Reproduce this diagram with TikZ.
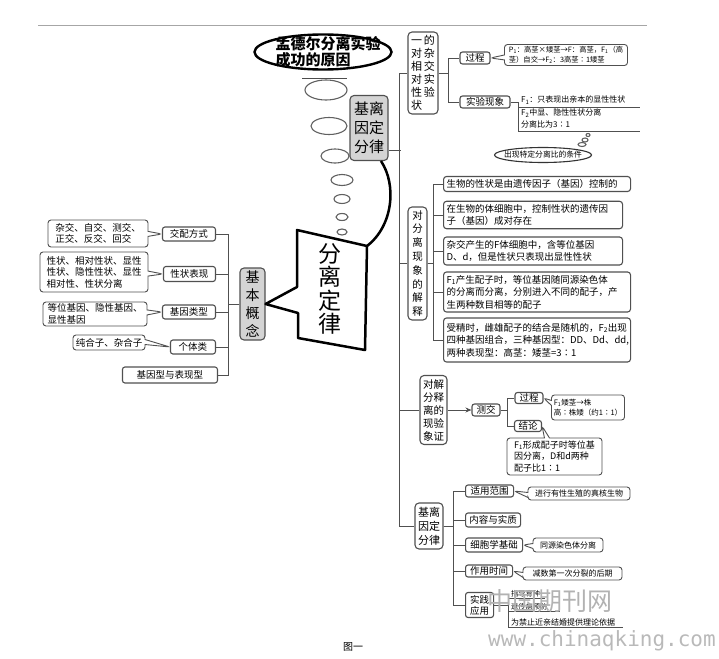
\documentclass[tikz,border=0pt]{standalone}
\usepackage{fontspec}
\setmainfont{Noto Sans CJK SC}
\newfontfamily\monofnt{DejaVu Sans Mono}
\usetikzlibrary{shapes.geometric,shapes.callouts,arrows.meta,calc}
\definecolor{lc}{RGB}{80,80,80}
\definecolor{gf}{RGB}{212,212,212}
\newcommand{\myfs}[2]{\fontsize{#1}{#2}\selectfont}
\tikzset{
  conn/.style={draw=lc, line width=0.9pt},
  lbl/.style={draw=lc, line width=1.1pt, rounded corners=2.5pt, fill=white, inner sep=0pt, font=\myfs{9.5}{11}},
  ebox/.style={draw=lc, line width=1.1pt, rounded corners=3pt, fill=white, inner sep=3pt, align=left, anchor=west, font=\myfs{9.5}{12.5}},
  bub/.style={rectangle callout, callout pointer width=5pt, draw=lc, line width=0.9pt, rounded corners=3pt, fill=white, inner sep=0pt, align=left, font=\myfs{9.5}{11.5}},
  vbox/.style={draw=lc, line width=1.1pt, rounded corners=4pt, fill=white, inner sep=0pt, align=center},
  thought/.style={ellipse, draw=gray!75!black, line width=1.1pt, inner sep=0pt},
}
\begin{document}
\begin{tikzpicture}[x=1pt,y=-1pt]
\useasboundingbox (0,0) rectangle (719,658);
\draw[gray!70, line width=1pt] (38,26) -- (647,26);

% ---------- left: basic concepts ----------
\node[vbox, fill=gf, minimum width=25pt, minimum height=72pt, font=\myfs{14}{18}] (jbgn) at (252.5,304) {基\\本\\概\\念};
\node[lbl, minimum width=53pt, minimum height=14pt, anchor=east] (jp) at (216,234) {交配方式};
\node[lbl, minimum width=52pt, minimum height=15pt, anchor=east] (xz) at (216,274) {性状表现};
\node[lbl, minimum width=53pt, minimum height=14pt, anchor=east] (jl) at (216,312) {基因类型};
\node[lbl, minimum width=45pt, minimum height=14pt, anchor=east] (gt) at (216,347) {个体类};
\node[lbl, minimum width=95pt, minimum height=16pt, anchor=east] (bx) at (218,375) {基因型与表现型};
\foreach \n in {jp,xz,jl,gt,bx} \draw[conn] (jbgn.west) -- +(-11,0) |- (\n.east);
\node[bub, minimum width=100pt, minimum height=27pt, callout absolute pointer={(jp.west)}] (b1) at (98,233.5) {杂交、自交、测交、\\正交、反交、回交};
\node[bub, minimum width=108pt, minimum height=40pt, callout absolute pointer={(xz.west)}] (b2) at (94,272) {性状、相对性状、显性\\性状、隐性性状、显性\\相对性、性状分离};
\node[bub, minimum width=104pt, minimum height=24pt, callout absolute pointer={(jl.west)}] (b3) at (95,314) {等位基因、隐性基因、\\显性基因};
\node[bub, minimum width=72pt, minimum height=15pt, callout absolute pointer={(gt.west)}] (b4) at (109,342.5) {纯合子、杂合子};

% ---------- top: title ellipse and thought bubbles ----------
\node[ellipse, draw=black, line width=2.4pt, minimum width=137pt, minimum height=35pt, inner sep=0pt] (mdr) at (323,52) {};
\node[font=\myfs{15}{16}\bfseries, align=left] (mdrT) at (328,52) {孟德尔分离实验\\成功的原因};
\draw[gray!60!black, line width=1pt] ($(mdr.south)+(-21,8)$) -- +(45,0);
\foreach \x/\y/\w/\h [count=\i] in {326/90/42/20, 329/126/36/17, 335/156/28/14, 342/180/22/11, 342/199/16/9, 342/217/12/7, 342/232/10/6}
  \node[thought, minimum width=\w pt, minimum height=\h pt] (th\i) at (\x,\y) {};

\node[vbox, fill=gf, minimum width=38pt, minimum height=65pt, font=\myfs{15}{19}] (jl1) at (369,128) {基离\\因定\\分律};

% ---------- central callout ----------
\coordinate (pA) at (297,230);
\coordinate (pB) at (367,246);
\coordinate (pC) at (365,350);
\coordinate (pD) at (298,338);
\coordinate (pE) at (298,313);
\coordinate (pF) at (297,287);
\draw[line width=2.5pt, line join=round] (pA) -- (pB) -- (pC) -- (pD) -- (pE) -- (jbgn.east) -- (pF) -- cycle;
\node[font=\myfs{23}{23.5}, align=center] (flT) at (330,289) {分\\离\\定\\律};
\draw[line width=2.5pt] ([xshift=12pt]jl1.south) .. controls (397,185) and (393,226) .. (pB);

% ---------- right spine ----------
\node[vbox, minimum width=30pt, minimum height=82pt, font=\myfs{11}{13}, align=left] (r1) at (423,73) {一\,的\\对\,杂\\相\,交\\对\,实\\性\,验\\状};
\node[vbox, minimum width=19pt, minimum height=113pt, font=\myfs{10.5}{13.8}] (r2) at (417.5,263.5) {对\\分\\离\\现\\象\\的\\解\\释};
\node[vbox, minimum width=27pt, minimum height=69pt, font=\myfs{10.5}{13}] (r3) at (433.5,410) {对解\\分释\\离的\\现验\\象证};
\node[vbox, minimum width=28pt, minimum height=46pt, font=\myfs{11}{14}] (r4) at (429,526) {基离\\因定\\分律};
\draw[conn] (r1.west) -| ($(r4.west)+(-15,0)$) -- (r4.west);
\draw[conn] ([yshift=-22pt]jl1.east) -- +(12,0);
\draw[conn] (r2.west) -- +(-8.5,0);
\draw[conn] (r3.west) -- +(-20.5,0);

% branch 1
\node[lbl, minimum width=30pt, minimum height=12pt] (gc1) at (475,58) {过程};
\node[lbl, minimum width=50pt, minimum height=12pt] (sy) at (485,102) {实验现象};
\draw[conn] (r1.east) -- +(10,0) |- (gc1.west);
\draw[conn] (r1.east) -- +(10,0) |- (sy.west);
\node[bub, minimum width=123pt, minimum height=21pt, font=\myfs{7.3}{9.5}, callout absolute pointer={(gc1.east)}] (gcb) at (566,55) {P\textsubscript{1}：高茎×矮茎→F：高茎，F\textsubscript{1}（高\\茎）自交→F\textsubscript{2}：3高茎∶1矮茎};
\node[anchor=west, font=\myfs{8}{9}, inner sep=0pt] (syT1) at (521,100) {F\textsubscript{1}：只表现出亲本的显性性状};
\node[anchor=west, font=\myfs{8}{9}, inner sep=0pt] (syT2) at (521,113) {F\textsubscript{2}中显、隐性性状分离};
\node[anchor=west, font=\myfs{8}{9}, inner sep=0pt] (syT3) at (521,124) {分离比为3∶1};
\coordinate (u1) at (640,107);
\coordinate (u2) at (640,131);
\draw[conn] (sy.east) -- +(8,0) |- (u2);
\draw[conn] ($(sy.east)+(8,5)$) -- (u1);
\node[thought, minimum width=4pt, minimum height=3pt] (tq1) at (588,135) {};
\node[thought, minimum width=6pt, minimum height=4pt] (tq2) at (585,140) {};
\node[thought, minimum width=8pt, minimum height=4pt] (tq3) at (582,144.5) {};
\node[ellipse, draw=black!80, line width=1.1pt, inner sep=0pt, minimum width=97pt, minimum height=15pt] (tj) at (543,155) {};
\node[font=\myfs{7.8}{9}, inner sep=0pt] (tjT) at (tj) {出现特定分离比的条件};

% branch 2
\node[ebox, text width=181pt, minimum height=14pt] (ea) at (443,184) {生物的性状是由遗传因子（基因）控制的};
\node[ebox, text width=173pt, minimum height=26pt] (eb) at (443,215) {在生物的体细胞中，控制性状的遗传因\\子（基因）成对存在};
\node[ebox, text width=173pt, minimum height=28pt] (ec) at (443,251) {杂交产生的F体细胞中，含等位基因\\D、d，但是性状只表现出显性性状};
\node[ebox, text width=181pt, minimum height=40pt] (ed) at (443,292) {F\textsubscript{1}产生配子时，等位基因随同源染色体\\的分离而分离，分别进入不同的配子，产\\生两种数目相等的配子};
\node[ebox, text width=181pt, minimum height=44pt] (ee) at (443,340) {受精时，雌雄配子的结合是随机的，F\textsubscript{2}出现\\四种基因组合，三种基因型：DD、Dd、dd,\\两种表现型：高茎：矮茎=3∶1};
\foreach \n in {ea,eb,ec,ed,ee} \draw[conn] (r2.east) -- +(6,0) |- (\n.west);

% branch 3
\node[lbl, minimum width=28pt, minimum height=12pt] (cj) at (486,410) {测交};
\draw[conn, -{Stealth[length=6pt,width=5pt]}] (r3.east) -- (cj.west);
\node[lbl, minimum width=28pt, minimum height=11pt] (gc2) at (529,398) {过程};
\node[lbl, minimum width=27pt, minimum height=11pt] (jl2) at (528,426) {结论};
\draw[conn] (cj.east) -- +(7,0) |- (gc2.west);
\draw[conn] (cj.east) -- +(7,0) |- (jl2.west);
\node[bub, minimum width=73pt, minimum height=25pt, font=\myfs{7.5}{10}, callout absolute pointer={(gc2.east)}] (gc2b) at (588,407.5) {F\textsubscript{1}矮茎→株\\高∶株矮（约1∶1）};
\node[bub, minimum width=95pt, minimum height=37pt, font=\myfs{9}{11.5}, callout absolute pointer={(jl2.east)}] (jl2b) at (554.5,456.5) {F\textsubscript{1}形成配子时等位基\\因分离，D和d两种\\配子比1∶1};

% branch 4
\node[lbl, anchor=west, minimum width=48pt, minimum height=12pt] (sy1) at (465,491) {适用范围};
\node[lbl, anchor=west, minimum width=55pt, minimum height=14pt] (nr) at (465,520) {内容与实质};
\node[lbl, anchor=west, minimum width=57pt, minimum height=14pt] (xb) at (465,545) {细胞学基础};
\node[lbl, anchor=west, minimum width=47pt, minimum height=12pt] (zy) at (465,571) {作用时间};
\node[lbl, anchor=west, minimum width=28pt, minimum height=25pt, align=center] (sj) at (465,605) {实践\\应用};
\foreach \n in {sy1,nr,xb,zy,sj} \draw[conn] (r4.east) -- +(10,0) |- (\n.west);
\node[bub, minimum width=102pt, minimum height=13pt, font=\myfs{8}{9}, callout absolute pointer={(sy1.east)}] (sy1b) at (579,493.5) {进行有性生殖的真核生物};
\node[bub, minimum width=70pt, minimum height=14pt, font=\myfs{8}{9}, callout absolute pointer={(xb.east)}] (xbb) at (568,545) {同源染色体分离};
\node[bub, minimum width=99pt, minimum height=13pt, font=\myfs{8}{9}, callout absolute pointer={(zy.east)}] (zyb) at (572.5,573.5) {减数第一次分裂的后期};
\coordinate (sjL1) at (545,598);
\coordinate (sjL2) at (560,611);
\coordinate (sjL3) at (623,627);
\draw[conn] (sj.east) -- +(15,0);
\draw[conn] (508,595) -- (508,627);
\draw[conn] (508,598) -- (sjL1);
\draw[conn] (508,611) -- (sjL2);
\draw[conn] (508,627) -- (sjL3);
\node[anchor=south west, font=\myfs{7.2}{8}, inner sep=1pt] (sjt1) at (510,598) {指导育种};
\node[anchor=south west, font=\myfs{7.2}{8}, inner sep=1pt] (sjt2) at (510,611) {遗传病预防};
\node[anchor=south west, font=\myfs{8}{9}, inner sep=1pt] (sjt3) at (510,627) {为禁止近亲结婚提供理论依据};

% ---------- watermarks and caption ----------
\node[font=\myfs{25}{26}, text=gray!60] (wm) at (550,601) {中国期刊网};
\node[font=\monofnt\myfs{21}{22}, text=gray!55] (url) at (602,641) {www.chinaqking.com};
\node[font=\myfs{10}{12}] (fig) at (353,647) {图一};
\end{tikzpicture}
\end{document}
